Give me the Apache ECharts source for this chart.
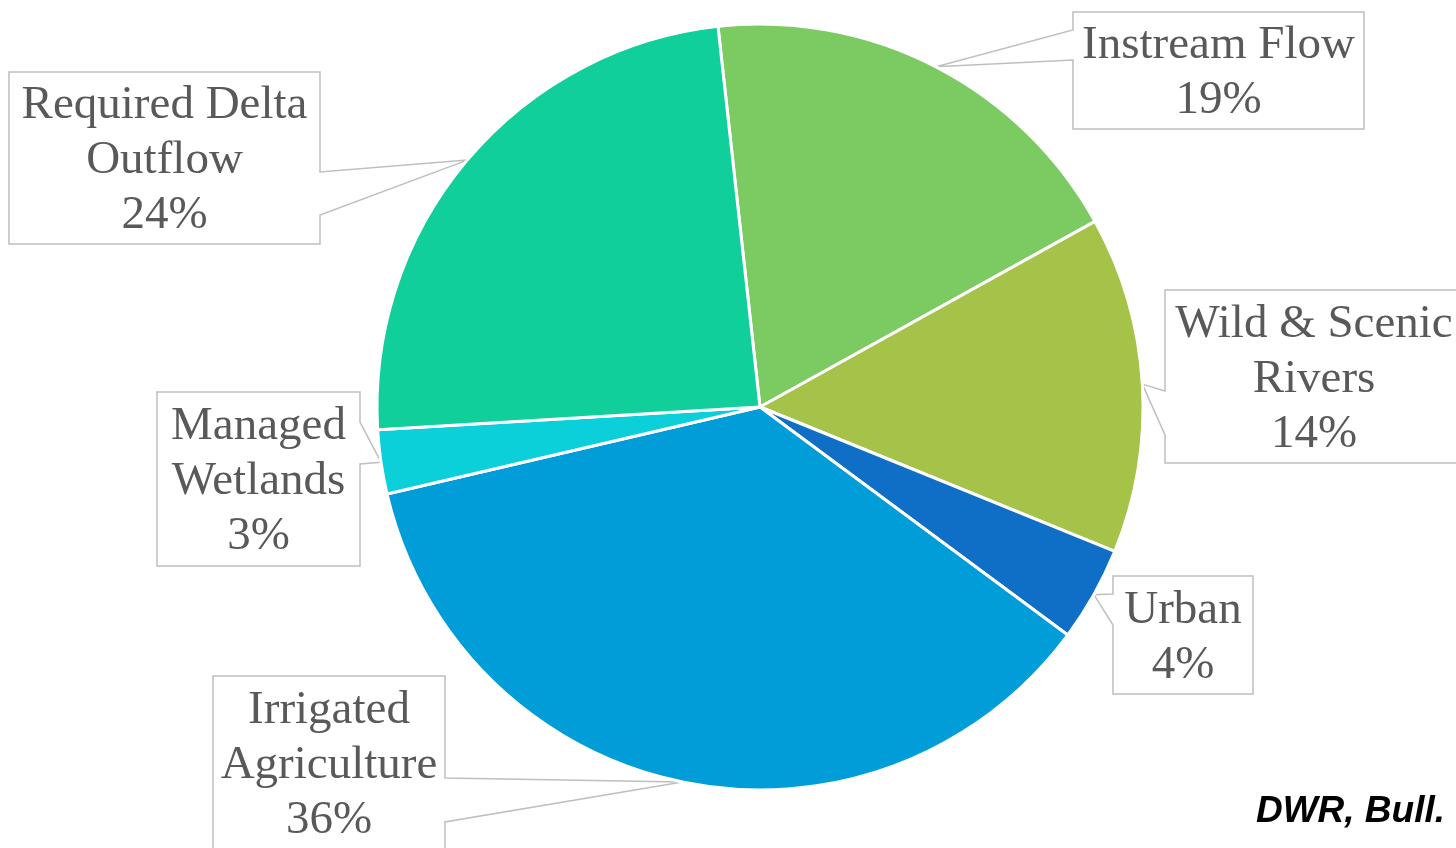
<!DOCTYPE html>
<html><head><meta charset="utf-8">
<script src="https://cdn.jsdelivr.net/npm/echarts@6/dist/echarts.min.js"></script>
<style>html,body{margin:0;padding:0;background:#fff}#c{width:1456px;height:848px}</style>
</head><body><div id="c"></div>
<script>
// Data (clockwise from just left of 12 o'clock)
const categories = ['Instream Flow','Wild & Scenic Rivers','Urban','Irrigated Agriculture','Managed Wetlands','Required Delta Outflow'];
const labelText = ['Instream Flow','Wild & Scenic\nRivers','Urban','Irrigated\nAgriculture','Managed\nWetlands','Required Delta\nOutflow'];
const shares = [18.7, 14.2, 4.0, 36.2, 2.7, 24.2];
const colors = ['#7CCA62','#A5C249','#0F6FC6','#009DD9','#0BD0D9','#10CF9B'];
const sourceNote = 'DWR, Bull.';

// Callout box layout: [left, top, width, height, pointerSide, attachA, attachB]
const calloutBoxes = [
  [1073, 12, 291, 117, 'left', 30, 60],
  [1165, 290, 298, 173, 'left', 391, 435],
  [1113, 576, 140, 118, 'left', 594, 625],
  [213, 676, 232, 173, 'right', 778, 822],
  [157, 392, 203, 174, 'right', 422, 464],
  [9, 72, 311, 172, 'right', 172, 215]
];

const chart = echarts.init(document.getElementById('c'), null, {renderer: 'canvas'});
const data = categories.map((n, i) => ({name: n, value: shares[i], itemStyle: {color: colors[i]}}));

chart.setOption({
  animation: false,
  backgroundColor: '#ffffff',
  series: [{
    type: 'pie',
    center: [760, 407],
    radius: [0, 383],
    startAngle: 96.3,
    clockwise: true,
    percentPrecision: 0,
    avoidLabelOverlap: false,
    emphasis: {disabled: true},
    itemStyle: {borderColor: '#ffffff', borderWidth: 3},
    label: {
      show: true,
      position: 'outside',
      formatter: p => labelText[p.dataIndex] + '\n' + p.percent + '%',
      fontFamily: 'Liberation Serif',
      fontSize: 47,
      lineHeight: 55,
      color: '#595959',
      align: 'center'
    },
    labelLine: {show: true, length: 10, length2: 10, lineStyle: {color: '#BFBFBF', width: 1.5}},
    labelLayout: function (params) {
      const b = calloutBoxes[params.dataIndex];
      const [x0, y0, w, h, side, a1, a2] = b;
      const x1 = x0 + w, y1 = y0 + h;
      const tip = params.labelLinePoints[0];
      let pts;
      if (side === 'left') {
        pts = [tip, [x0, a1], [x0, y0], [x1, y0], [x1, y1], [x0, y1], [x0, a2], tip];
      } else {
        pts = [tip, [x1, a1], [x1, y0], [x0, y0], [x0, y1], [x1, y1], [x1, a2], tip];
      }
      return {
        x: x0 + w / 2,
        y: y0 + h / 2 + 3,
        align: 'center',
        verticalAlign: 'middle',
        labelLinePoints: pts
      };
    },
    data: data
  }],
  graphic: [{
    type: 'text',
    right: 11,
    top: 793,
    style: {
      text: sourceNote,
      font: 'italic bold 37px "Liberation Sans", Arial, sans-serif',
      fill: '#000000'
    }
  }]
});
</script></body></html>
